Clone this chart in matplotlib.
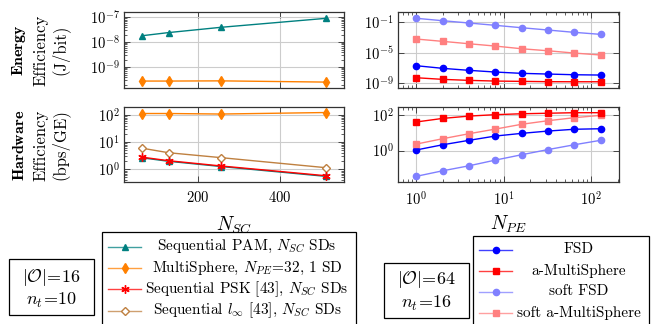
import matplotlib
matplotlib.use("Agg")
import matplotlib.pyplot as plt
from matplotlib.lines import Line2D
from matplotlib.patches import Rectangle
from matplotlib.ticker import FixedLocator, NullLocator, LogLocator, NullFormatter

plt.rcParams['font.family'] = 'serif'
plt.rcParams['font.serif'] = ['cmr10']
plt.rcParams['mathtext.fontset'] = 'cm'
plt.rcParams['axes.formatter.use_mathtext'] = True
plt.rcParams['axes.unicode_minus'] = False

# ---------------- data ----------------
n_sc = [64, 128, 256, 512]
pam_energy = [1.8e-8, 2.4e-8, 3.9e-8, 8.9e-8]
ms_energy = [2.75e-10, 2.75e-10, 2.8e-10, 2.5e-10]
pam_hw = [2.65, 1.98, 1.27, 0.55]
ms_hw = [115, 115, 110, 125]
psk_hw = [2.8, 2.08, 1.33, 0.58]
linf_hw = [6.0, 4.1, 2.7, 1.15]

n_pe = [1, 2, 4, 8, 16, 32, 64, 128]
fsd_energy = [10**v for v in [-6.71, -7.05, -7.31, -7.53, -7.70, -7.79, -7.88, -7.92]]
ams_energy = [10**v for v in [-8.27, -8.48, -8.61, -8.70, -8.74, -8.78, -8.79, -8.79]]
sfsd_energy = [10**v for v in [-0.56, -0.87, -1.17, -1.47, -1.78, -2.08, -2.38, -2.64]]
sams_energy = [10**v for v in [-3.25, -3.55, -3.86, -4.16, -4.51, -4.77, -5.07, -5.32]]
fsd_hw = [10**v for v in [0.04, 0.33, 0.58, 0.82, 0.97, 1.10, 1.20, 1.23]]
ams_hw = [10**v for v in [1.61, 1.81, 1.94, 2.02, 2.07, 2.10, 2.13, 2.13]]
sfsd_hw = [10**v for v in [-1.44, -1.13, -0.85, -0.53, -0.23, 0.06, 0.33, 0.58]]
sams_hw = [10**v for v in [0.37, 0.67, 0.95, 1.21, 1.48, 1.68, 1.85, 1.98]]

left_labels = [r'Sequential PAM, $N_{SC}$ SDs',
               r'MultiSphere, $N_{PE}\!=\!32$, 1 SD',
               r'Sequential PSK [43], $N_{SC}$ SDs',
               r'Sequential $l_{\infty}$ [43], $N_{SC}$ SDs']
right_labels = ['FSD', 'a-MultiSphere', 'soft FSD', 'soft a-MultiSphere']

# ---------------- styles ----------------
TEAL = (0, 0.5, 0.5)
ORANGE = (1, 0.5, 0)
RED = (1, 0, 0)
BROWN = (0.75, 0.5, 0.25)
BLUE = (0, 0, 1)
LBLUE = (0.5, 0.5, 1)
LRED = (1, 0.5, 0.5)

st_pam = dict(color=TEAL, marker='^', ms=5, lw=1.0)
st_ms = dict(color=ORANGE, marker='d', ms=5.5, lw=1.0)
st_psk = dict(color=RED, marker=(6, 2, 0), ms=6, mew=1.0, lw=1.0)
st_linf = dict(color=BROWN, marker='D', ms=4.5, mfc='white', mew=1.0, lw=1.0)
st_fsd = dict(color=BLUE, marker='o', ms=4.5, lw=1.0)
st_ams = dict(color=RED, marker='s', ms=4.5, lw=1.0)
st_sfsd = dict(color=LBLUE, marker='o', ms=4.5, lw=1.0)
st_sams = dict(color=LRED, marker='s', ms=4.5, lw=1.0)

W, H = 658, 324
fig = plt.figure(figsize=(W / 100, H / 100), dpi=100)


def ax_px(x0, x1, y0, y1):
    return fig.add_axes([x0 / W, 1 - y1 / H, (x1 - x0) / W, (y1 - y0) / H])


ax_tl = ax_px(124, 344, 12, 88)
ax_bl = ax_px(124, 344, 107, 182)
ax_tr = ax_px(398, 619, 12, 88)
ax_br = ax_px(398, 619, 107, 182)

for ax in (ax_tl, ax_bl, ax_tr, ax_br):
    ax.set_yscale('log')
    ax.grid(True, which='major', color='#cccccc', lw=0.8)
    ax.set_axisbelow(True)
    for s in ax.spines.values():
        s.set_color('#333333')
        s.set_linewidth(0.9)
    ax.tick_params(which='both', direction='in', top=True, right=True,
                   labelsize=10.5, color='#444444')
    ax.tick_params(which='major', length=4, width=0.7)
    ax.tick_params(which='minor', length=2.5, width=0.6)
    ax.tick_params(axis='y', pad=3)
    ax.tick_params(axis='x', pad=6)

# left
for ax in (ax_tl, ax_bl):
    ax.set_xlim(19.2, 556.8)
    ax.xaxis.set_major_locator(FixedLocator([200, 400]))
    ax.xaxis.set_minor_locator(NullLocator())
    ax.yaxis.set_minor_locator(LogLocator(base=10, subs=range(2, 10), numticks=20))
    ax.yaxis.set_minor_formatter(NullFormatter())
ax_tl.tick_params(axis='x', labelbottom=False)

ax_tl.plot(n_sc, pam_energy, **st_pam)
ax_tl.plot(n_sc, ms_energy, **st_ms)
ax_tl.set_ylim(1.45e-10, 1.6e-7)
ax_tl.yaxis.set_major_locator(FixedLocator([1e-9, 1e-8, 1e-7]))

ax_bl.plot(n_sc, ms_hw, **st_ms)
ax_bl.plot(n_sc, linf_hw, **st_linf)
ax_bl.plot(n_sc, pam_hw, **st_pam)
ax_bl.plot(n_sc, psk_hw, **st_psk)
ax_bl.set_ylim(0.34, 200)
ax_bl.yaxis.set_major_locator(FixedLocator([1, 10, 100]))
ax_bl.set_xlabel(r'$N_{SC}$', fontsize=14, labelpad=7)

# right
for ax in (ax_tr, ax_br):
    ax.set_xscale('log')
    ax.set_xlim(10**-0.2107, 10**2.3177)
    ax.xaxis.set_major_locator(FixedLocator([1, 10, 100]))
    ax.xaxis.set_minor_locator(LogLocator(base=10, subs=range(2, 10), numticks=20))
    ax.xaxis.set_minor_formatter(NullFormatter())
    ax.yaxis.set_minor_locator(NullLocator())
ax_tr.tick_params(axis='x', labelbottom=False)

ax_tr.plot(n_pe, sfsd_energy, **st_sfsd)
ax_tr.plot(n_pe, sams_energy, **st_sams)
ax_tr.plot(n_pe, fsd_energy, **st_fsd)
ax_tr.plot(n_pe, ams_energy, **st_ams)
ax_tr.set_ylim(10**-9.6, 10**0.26)
ax_tr.yaxis.set_major_locator(FixedLocator([1e-9, 1e-5, 1e-1]))

ax_br.plot(n_pe, sfsd_hw, **st_sfsd)
ax_br.plot(n_pe, fsd_hw, **st_fsd)
ax_br.plot(n_pe, sams_hw, **st_sams)
ax_br.plot(n_pe, ams_hw, **st_ams)
ax_br.set_ylim(10**-1.76, 10**2.45)
ax_br.yaxis.set_major_locator(FixedLocator([1, 100]))
ax_br.set_xlabel(r'$N_{PE}$', fontsize=14, labelpad=4)

# y labels (three lines)
def ylab(y, first, second, third):
    fig.text(19 / W, 1 - y / H, r'$\mathbf{%s}$' % first, rotation=90, ha='center',
             va='center', fontsize=11.5)
    fig.text(41 / W, 1 - y / H, second, rotation=90, ha='center', va='center', fontsize=12)
    fig.text(60 / W, 1 - y / H, third, rotation=90, ha='center', va='center', fontsize=12)


ylab(50, 'Energy', 'Efficiency', '(J/bit)')
ylab(145, 'Hardware', 'Efficiency', '(bps/GE)')

# boxes with parameters
def pbox(x0, x1, y0, y1, l1, l2, ly1, ly2):
    fig.patches.append(Rectangle((x0 / W, 1 - y1 / H), (x1 - x0) / W, (y1 - y0) / H,
                                 transform=fig.transFigure, fill=False, ec='black', lw=0.9))
    xc = (x0 + x1) / 2
    fig.text(xc / W, 1 - ly1 / H, l1, ha='center', va='center', fontsize=13)
    fig.text(xc / W, 1 - ly2 / H, l2, ha='center', va='center', fontsize=13)


pbox(9, 94, 259, 315, r'$|\mathcal{O}|\!=\!16$', r'$n_t\!=\!10$', 277, 300)
pbox(384, 469, 263, 318, r'$|\mathcal{O}|\!=\!64$', r'$n_t\!=\!16$', 280, 303)

# manual legends
def legend(x0, x1, ytop, lx0, lx1, tx, ys, styles, labels):
    fig.patches.append(Rectangle((x0 / W, -0.1), (x1 - x0) / W, 1 - ytop / H + 0.1,
                                 transform=fig.transFigure, fill=False, ec='black', lw=0.9))
    for y, st, lab in zip(ys, styles, labels):
        s = dict(st)
        fig.add_artist(Line2D([lx0 / W, lx1 / W], [1 - y / H, 1 - y / H],
                              transform=fig.transFigure, color=s['color'], lw=1.0, alpha=0.75))
        s.pop('lw')
        fig.add_artist(Line2D([(lx0 + lx1) / 2 / W], [1 - y / H], transform=fig.transFigure,
                              ls='none', **s))
        fig.text(tx / W, 1 - y / H, lab, ha='center', va='center', fontsize=11)


legend(102, 356, 232, 108, 141, 247, [246.5, 268, 289, 310.5],
       [st_pam, st_ms, st_psk, st_linf], left_labels)
legend(473, 649, 236, 479, 512, 579, [249.5, 271, 291.5, 313],
       [st_fsd, st_ams, st_sfsd, st_sams], right_labels)

fig.savefig('out.png', dpi=100)
